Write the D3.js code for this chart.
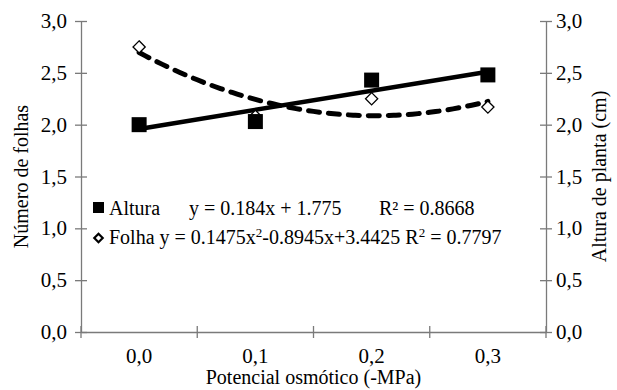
<!DOCTYPE html>
<html>
<head>
<meta charset="utf-8">
<script src="https://cdn.jsdelivr.net/npm/d3@7"></script>
</head>
<body style="margin:0">
<svg id="t" width="617" height="390"></svg>
<script>
const categories = ["0,0", "0,1", "0,2", "0,3"];
const yTicks = [0, 0.5, 1, 1.5, 2, 2.5, 3];
const alturaValues = [2.00, 2.03, 2.43, 2.48];
const folhaValues = [2.75, 2.08, 2.25, 2.17];
// trend coefficients as printed in the legend (x = 1..4)
const alturaCoef = [1.775, 0.184];
const folhaCoef = [3.4425, -0.8945, 0.1475];

const svg = d3.select("#t");
const mLeft = 81, mRight = 546, mTop = 21, mBottom = 332;
const axisColor = "#7a7a7a";
const serif = "'Times New Roman'";

const x = d3.scaleBand()
            .domain(categories)
            .range([mLeft, mRight]);
const y = d3.scaleLinear()
            .domain([0, 3])
            .range([mBottom, mTop]);
// numeric position (1..n) to pixel
const xi = (i) => mLeft + (i - 0.5) * x.bandwidth();
const fmt = (d) => d.toFixed(1).replace(".", ",");

function label(parent, px, py, size, str, anchor) {
    return parent.append("text")
                 .attr("x", px).attr("y", py)
                 .style("font-family", serif)
                 .style("font-size", size + "px")
                 .attr("text-anchor", anchor || "start")
                 .text(str);
}

// axis lines and ticks from the scales
const yLeft = svg.append("g")
                 .attr("transform", "translate(" + mLeft + ",0)")
                 .call(d3.axisLeft(y).tickValues(yTicks).tickFormat("").tickSize(6).tickSizeOuter(0));
const yRight = svg.append("g")
                  .attr("transform", "translate(" + mRight + ",0)")
                  .call(d3.axisRight(y).tickValues(yTicks).tickFormat("").tickSize(6).tickSizeOuter(0));
const xAxis = svg.append("g")
                 .attr("transform", "translate(0," + mBottom + ")")
                 .call(d3.axisBottom(x).tickSize(0).tickFormat("").tickSizeOuter(0));
for (const g of [yLeft, yRight, xAxis]) {
    g.select(".domain").attr("stroke", axisColor).attr("stroke-width", 1.3);
    g.selectAll(".tick line").attr("stroke", axisColor).attr("stroke-width", 1.3);
    g.selectAll(".tick text").remove();
}
yLeft.selectAll(".tick line").attr("x1", 6).attr("x2", -6);
yRight.selectAll(".tick line").attr("x1", -6).attr("x2", 6);

// x ticks at the band boundaries
const bounds = categories.map((c) => x(c)).concat([mRight]);
svg.append("g")
   .selectAll("line")
   .data(bounds)
   .join("line")
   .attr("x1", (d) => d).attr("x2", (d) => d)
   .attr("y1", mBottom - 6).attr("y2", mBottom + 6)
   .attr("stroke", axisColor)
   .attr("stroke-width", 1.3);

// tick labels
const labels = svg.append("g");
for (const v of yTicks) {
    label(labels, mLeft - 14, y(v) + 7, 21, fmt(v), "end");
    label(labels, mRight + 10, y(v) + 7, 21, fmt(v), "start");
}
for (const c of categories) {
    label(labels, x(c) + x.bandwidth() / 2, mBottom + 31, 21, c, "middle");
}

// axis titles
label(svg, (mLeft + mRight) / 2, 384, 20, "Potencial osmótico (-MPa)", "middle");
label(svg, 0, 0, 20, "Número de folhas", "middle")
   .attr("transform", "translate(28," + ((mTop + mBottom) / 2) + ") rotate(-90)");
label(svg, 0, 0, 20, "Altura de planta (cm)", "middle")
   .attr("transform", "translate(606," + ((mTop + mBottom) / 2) + ") rotate(-90)");

// trend lines
const linearLine = d3.line()
                     .x((d) => xi(d))
                     .y((d) => y(alturaCoef[0] + alturaCoef[1] * d));
svg.append("path")
   .datum([1, categories.length])
   .attr("d", linearLine)
   .attr("fill", "none")
   .attr("stroke", "#000")
   .attr("stroke-width", 4.5);

const steps = d3.range(1, categories.length + 0.001, 0.05);
const quadLine = d3.line()
                   .x((d) => xi(d))
                   .y((d) => y(folhaCoef[0] + folhaCoef[1] * d + folhaCoef[2] * d * d))
                   .curve(d3.curveBasis);
svg.append("path")
   .datum(steps)
   .attr("d", quadLine)
   .attr("fill", "none")
   .attr("stroke", "#000")
   .attr("stroke-width", 5)
   .attr("stroke-linecap", "round")
   .attr("stroke-dasharray", "11, 9");

// markers
svg.append("g")
   .selectAll("path")
   .data(folhaValues)
   .join("path")
   .attr("transform", (d, i) => "translate(" + (x(categories[i]) + x.bandwidth() / 2) + "," + y(d) + ")")
   .attr("d", d3.symbol(d3.symbolDiamond2, 95))
   .attr("fill", "#fff")
   .attr("stroke", "#000")
   .attr("stroke-width", 1.3);

svg.append("g")
   .selectAll("rect")
   .data(alturaValues)
   .join("rect")
   .attr("x", (d, i) => x(categories[i]) + x.bandwidth() / 2 - 7.5)
   .attr("y", (d) => y(d) - 7.5)
   .attr("width", 15)
   .attr("height", 15)
   .attr("fill", "#000");

// legend
const legend = svg.append("g");
legend.append("rect")
      .attr("x", 93).attr("y", 202)
      .attr("width", 11).attr("height", 11)
      .attr("fill", "#000");
label(legend, 109, 215, 20, "Altura");
label(legend, 189, 215, 20, "y = 0.184x + 1.775");
label(legend, 379, 215, 20, "R² = 0.8668");

legend.append("path")
      .attr("transform", "translate(98.5,238)")
      .attr("d", d3.symbol(d3.symbolDiamond2, 45))
      .attr("fill", "#fff")
      .attr("stroke", "#000")
      .attr("stroke-width", 2.2);
const folhaText = label(legend, 109, 244, 20, "");
const parts = [["Folha y = 0.1475x", false], ["2", true], ["-0.8945x+3.4425 R", false], ["2", true], [" = 0.7797", false]];
for (const [t, sup] of parts) {
    const span = folhaText.append("tspan").text(t);
    if (sup) {
        span.attr("baseline-shift", "super").style("font-size", "13px");
    }
}
</script>
</body>
</html>
